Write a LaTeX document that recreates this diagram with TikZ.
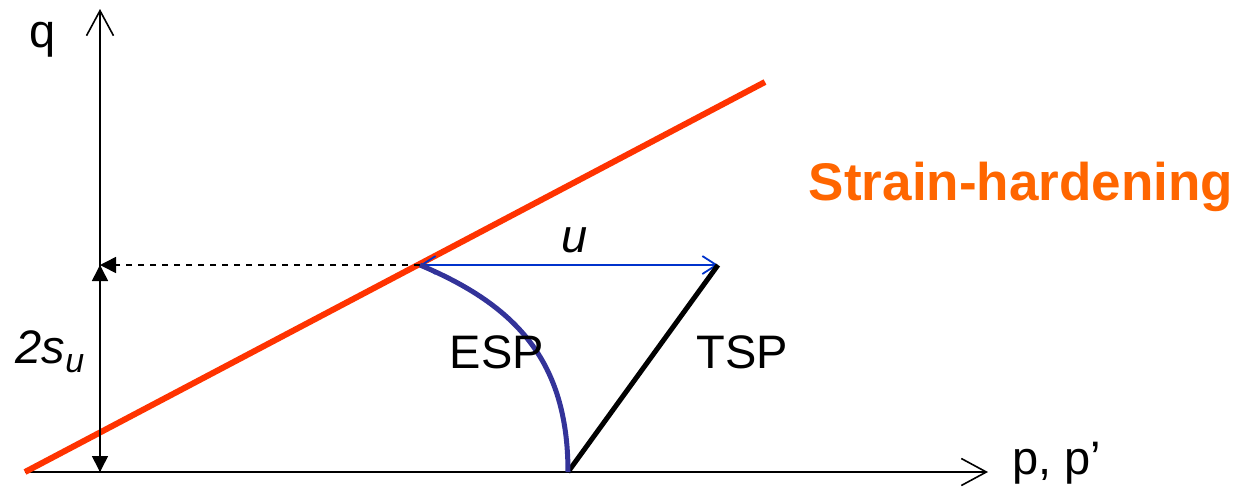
\documentclass[tikz,border=0pt]{standalone}
\usepackage{fontspec}
\setmainfont{Liberation Sans}
\usetikzlibrary{arrows.meta}
\definecolor{redline}{HTML}{FF3300}
\definecolor{orangetxt}{HTML}{FF6600}
\definecolor{espblue}{HTML}{333399}
\definecolor{ublue}{HTML}{0033CC}
\begin{document}
\begin{tikzpicture}[x=0.5pt,y=-0.5pt,
  axis/.style={line width=0.8pt,-{Straight Barb[length=12.5pt,width=13.5pt,line width=0.8pt]}},
  lbl/.style={font=\fontsize{23.5}{28}\selectfont,inner sep=0pt},
  dimarrow/.style={line width=0.8pt,{Triangle[length=8pt,width=8pt]}-{Triangle[length=8pt,width=8pt]}},
]
\useasboundingbox (0,0) rectangle (1238,495);
% coordinates
\coordinate (xs) at (25,472);
\coordinate (xe) at (988,472);
\coordinate (ys) at (100,472);
\coordinate (ye) at (100,9);
\coordinate (A) at (420,265);
\coordinate (B) at (718,265);
\coordinate (C) at (568,472);
\coordinate (Q) at (100,265);
\coordinate (R) at (765,82);
% axes
\draw[axis] (xs) -- (xe);
\draw[axis] (ys) -- (ye);
\node[lbl,anchor=west] (pl) at (1012,463) {p, p’};
\node[lbl] (ql) at (43,40) {q};
% failure line
\draw[redline,line width=3pt] (xs) -- (R);
\node[font=\fontsize{26.5}{30}\selectfont\bfseries,text=orangetxt,inner sep=0pt] (sh) at (1021,187) {Strain-hardening};
% dashed
\draw[dashed,line width=0.8pt,-{Triangle[length=8pt,width=8pt]}] (A) -- (Q);
% 2su arrow
\draw[dimarrow] (Q) -- (ys);
\node[lbl] (su) at (50,352) {\itshape 2s\raisebox{-0.35ex}{\fontsize{17}{20}\selectfont u}};
% u arrow
\draw[ublue,line width=0.9pt,{Straight Barb[length=7pt,width=9pt,line width=0.9pt]}-{Straight Barb[length=7pt,width=9pt,line width=0.9pt]}] (A) -- (B);
\node[lbl] (ul) at (575,240) {\itshape u};
% TSP
\draw[line width=2.5pt] (C) -- (B);
\node[lbl] (tsp) at (742,352) {TSP};
% ESP
\draw[espblue,line width=2.5pt] (A) .. controls (515,305) and (568,360) .. (C);
\node[lbl] (esp) at (497,352) {ESP};
\end{tikzpicture}
\end{document}
